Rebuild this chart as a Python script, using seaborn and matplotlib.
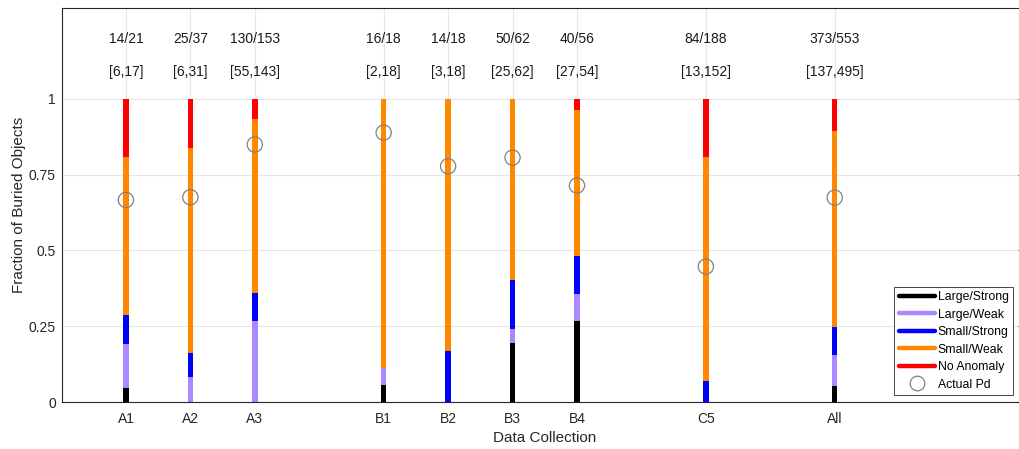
import matplotlib
matplotlib.use("Agg")
import matplotlib.pyplot as plt
from matplotlib.lines import Line2D
import numpy as np
import seaborn as sns

# Data collections and their x positions (gaps separate the A, B and C groups)
collections = ["A1", "A2", "A3", "B1", "B2", "B3", "B4", "C5", "All"]
positions = [1, 2, 3, 5, 6, 7, 8, 10, 12]

# Counts of buried objects per anomaly class
large_strong = [1, 0, 0, 1, 0, 12, 15, 0, 29]
large_weak = [3, 3, 41, 1, 0, 3, 5, 0, 56]
small_strong = [2, 3, 14, 0, 3, 10, 7, 13, 52]
small_weak = [11, 25, 88, 16, 15, 37, 27, 139, 358]
no_anomaly = [4, 6, 10, 0, 0, 0, 2, 36, 58]

# Objects actually detected
detected = [14, 25, 130, 16, 14, 50, 40, 84, 373]

class_names = ["Large/Strong", "Large/Weak", "Small/Strong", "Small/Weak", "No Anomaly"]
class_colors = ["#000000", "#AA88FF", "#0000FF", "#FF8800", "#FF0000"]

sns.set_theme(style="white")
plt.rcParams["font.family"] = ["Liberation Sans", "DejaVu Sans"]

counts = np.array([large_strong, large_weak, small_strong, small_weak, no_anomaly], dtype=float)
totals = counts.sum(axis=0)
cumfrac = np.cumsum(counts, axis=0) / totals
pd_frac = np.array(detected) / totals

fig = plt.figure(figsize=(10.19, 4.49), dpi=100)
ax = fig.add_axes([61.5 / 1019, 47 / 449, (1028 - 61.5) / 1019, 394 / 449])

# Stacked columns: draw the tallest cumulative layer first, then overlay the lower ones
for level in range(4, -1, -1):
    sns.barplot(x=positions, y=cumfrac[level], native_scale=True, orient="x",
                color=class_colors[level], saturation=1, width=0.085,
                linewidth=0, errorbar=None, ax=ax, zorder=2)

# Actual probability of detection
sns.scatterplot(x=positions, y=pd_frac, marker="o", s=120, facecolor="none",
                edgecolor="#808080", linewidth=0.9, legend=False, ax=ax, zorder=5)

# Detection counts and interval bounds above each column
lower = counts[:3].sum(axis=0).astype(int)
upper = counts[:4].sum(axis=0).astype(int)
for x, d, n, lo, hi in zip(positions, detected, totals.astype(int), lower, upper):
    ax.text(x, 1.198, f"{d}/{n}", ha="center", va="center", fontsize=10, color="#1a1a1a")
    ax.text(x, 1.089, f"[{lo},{hi}]", ha="center", va="center", fontsize=10, color="#1a1a1a")

ax.set_xlim(0, 15)
ax.set_ylim(0, 1.3)
ax.set_xticks(positions)
ax.set_xticklabels(collections)
ax.set_yticks([0, 0.25, 0.5, 0.75, 1])
ax.set_yticklabels(["0", "0.25", "0.5", "0.75", "1"])
ax.set_axisbelow(True)
ax.grid(True, color="#e6e6e6", linewidth=0.8)
for side in ["left", "right", "top", "bottom"]:
    ax.spines[side].set_visible(True)
    ax.spines[side].set_color("#262626")
    ax.spines[side].set_linewidth(0.8)
ax.tick_params(axis="both", direction="in", length=7, width=0.6, color="#262626",
               labelcolor="#262626", labelsize=10)
ax.tick_params(axis="y", right=True, pad=4)
ax.tick_params(axis="x", pad=7.5)

ax.set_xlabel("Data Collection", fontsize=11, color="#262626", labelpad=3)
ax.set_ylabel("Fraction of Buried Objects", fontsize=11, color="#262626", labelpad=2)

handles = [Line2D([0], [0], color=c, linewidth=3.2) for c in class_colors]
handles.append(Line2D([0], [0], linestyle="none", marker="o", markersize=10.5,
                      markerfacecolor="none", markeredgecolor="#808080", markeredgewidth=0.9))
leg = ax.legend(handles, class_names + ["Actual Pd"], loc="lower right",
                bbox_to_anchor=(1013 / 1019, 1 - 395 / 449), bbox_transform=fig.transFigure,
                fontsize=8.8, frameon=True, fancybox=False, framealpha=1,
                edgecolor="#262626", handlelength=3.0, handletextpad=0.2,
                borderpad=0.35, labelspacing=0.45, borderaxespad=0)
leg.get_frame().set_linewidth(0.6)
for t in leg.get_texts():
    t.set_color("#000000")

fig.savefig("out.png", dpi=100)
